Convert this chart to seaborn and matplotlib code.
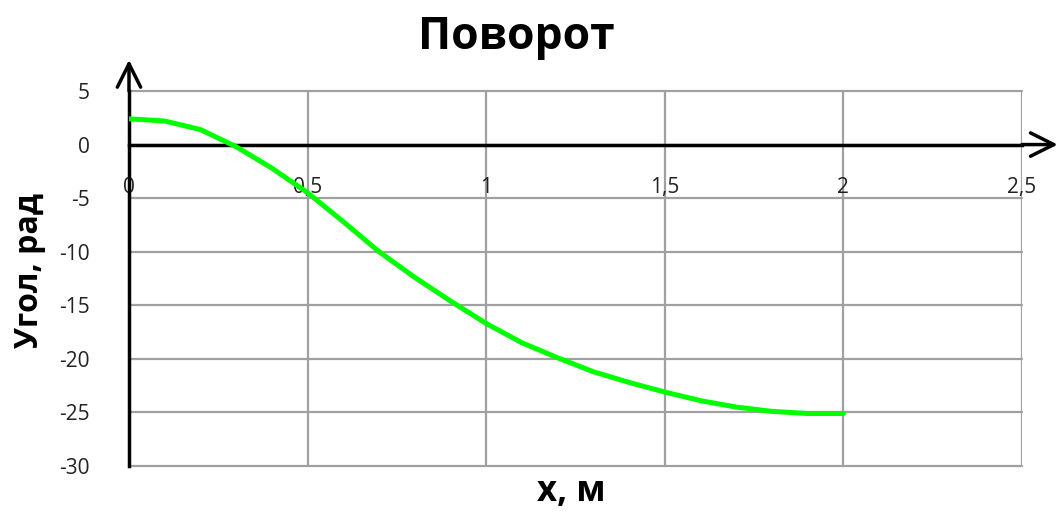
import matplotlib
matplotlib.use("Agg")
import matplotlib.pyplot as plt
import seaborn as sns
import pandas as pd

x_m = [0.0, 0.1, 0.2, 0.3, 0.4, 0.5, 0.6, 0.7, 0.8, 0.9, 1.0,
       1.1, 1.2, 1.3, 1.4, 1.5, 1.6, 1.7, 1.8, 1.9, 2.0]
angle = [2.4, 2.2, 1.4, -0.2, -2.2, -4.5, -7.2, -10.0, -12.4, -14.6, -16.7,
         -18.5, -19.9, -21.2, -22.2, -23.1, -23.9, -24.5, -24.9, -25.1, -25.1]
x_ticks = [0, 0.5, 1, 1.5, 2, 2.5]
x_tick_labels = ["0", "0,5", "1", "1,5", "2", "2,5"]
y_ticks = [5, 0, -5, -10, -15, -20, -25, -30]

sns.set_theme(style="white")
plt.rcParams['font.family'] = ['Open Sans', 'DejaVu Sans']
plt.rcParams['axes.unicode_minus'] = False

df = pd.DataFrame({"x": x_m, "y": angle})

fig = plt.figure(figsize=(10.59, 5.17), dpi=100)
ax = fig.add_axes([129/1059, 1-466/517, (1022-129)/1059, (466-91)/517])

grid_c = "#a0a0a0"
for t in x_ticks[1:]:
    ax.axvline(t, color=grid_c, lw=1.6, zorder=0)
for t in y_ticks:
    ax.axhline(t, color=grid_c, lw=1.6, zorder=0, clip_on=False)

sns.lineplot(data=df, x="x", y="y", ax=ax, color="#00ff00", lw=3.6, zorder=3)

ax.set_xlim(0, 2.5)
ax.set_ylim(-30, 5)

for s in ["top", "right"]:
    ax.spines[s].set_visible(False)
ax.spines["left"].set_color("black")
ax.spines["left"].set_linewidth(2.5)
ax.spines["bottom"].set_position(("data", 0))
ax.spines["bottom"].set_color("black")
ax.spines["bottom"].set_linewidth(2.5)

ax.set_xticks(x_ticks)
ax.set_xticklabels(x_tick_labels)
ax.set_yticks(y_ticks)
ax.tick_params(axis="y", direction="out", length=6, width=2.2, color="black",
               pad=22, labelsize=15, labelcolor="#222222")
ax.tick_params(axis="x", direction="out", length=5, width=2.2, color="black",
               pad=18, labelsize=15, labelcolor="#222222")

# arrows on axes
ax.annotate("", xy=(0, 7.9), xytext=(0, 5.0),
            arrowprops=dict(arrowstyle="->", lw=2.5, color="black",
                            mutation_scale=42, shrinkA=0, shrinkB=0),
            annotation_clip=False)
ax.annotate("", xy=(2.6, 0), xytext=(2.5, 0),
            arrowprops=dict(arrowstyle="->", lw=2.5, color="black",
                            mutation_scale=42, shrinkA=0, shrinkB=0),
            annotation_clip=False)

ax.set_xlabel("")
ax.set_ylabel("")
fig.text(516/1059, 1-38/517, "Поворот", ha="center", va="center",
         fontsize=32, fontweight="bold", color="black")
fig.text(571/1059, 1-492/517, "x, м", ha="center", va="center",
         fontsize=25, fontweight="bold", color="black")
fig.text(30/1059, 1-271/517, "Угол, рад", ha="center", va="center",
         fontsize=23, fontweight="bold", rotation=90, color="black")

fig.savefig("out.png", dpi=100)
